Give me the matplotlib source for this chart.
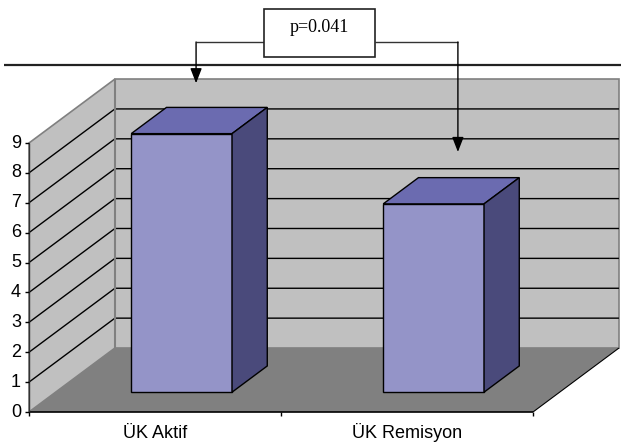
import matplotlib
matplotlib.use("Agg")
import matplotlib.pyplot as plt
from matplotlib.patches import Polygon, Rectangle

# Data
categories = ["ÜK Aktif", "ÜK Remisyon"]
values = [8.65, 6.3]
y_ticks = list(range(10))
p_label = "p=0.041"

# 3D look: depth vector of the floor in (category, value) units
DEPTH_X, DEPTH_Y = 0.341, 2.14
BAR_FRONT, BAR_BACK = 0.31, 0.72     # fraction of depth occupied by the bars
BAR_WIDTH = 0.40
Y_MAX = 9

WALL = "#C0C0C0"
FLOOR = "#808080"
EDGE = "#808080"
BAR_FRONT_C = "#9494C8"
BAR_TOP_C = "#6B6BB0"
BAR_SIDE_C = "#4A4A7B"

sans = ["Liberation Sans", "DejaVu Sans"]
serif = ["Liberation Serif", "DejaVu Serif"]

fig = plt.figure(figsize=(6.21, 4.44), dpi=100)
ax = fig.add_axes([29 / 621, 32 / 444, 504 / 621, 269 / 444])
n = len(categories)
ax.set_xlim(0, n)
ax.set_ylim(0, Y_MAX)
ax.axis("off")


def poly(pts, fc, ec="none", lw=0.0, z=1):
    ax.add_patch(Polygon(pts, closed=True, facecolor=fc, edgecolor=ec,
                         linewidth=lw, zorder=z, clip_on=False,
                         joinstyle="miter"))


def line(xs, ys, color="black", lw=1.0, z=2):
    ax.plot(xs, ys, color=color, lw=lw, zorder=z, clip_on=False,
            solid_capstyle="butt")


# Walls and floor
poly([(DEPTH_X, DEPTH_Y), (DEPTH_X, Y_MAX + DEPTH_Y),
      (n + DEPTH_X, Y_MAX + DEPTH_Y), (n + DEPTH_X, DEPTH_Y)], WALL, EDGE, 1.2, 1)
poly([(0, 0), (0, Y_MAX), (DEPTH_X, Y_MAX + DEPTH_Y), (DEPTH_X, DEPTH_Y)],
     WALL, EDGE, 1.2, 1)
poly([(0, 0), (n, 0), (n + DEPTH_X, DEPTH_Y), (DEPTH_X, DEPTH_Y)], FLOOR, "none", 0, 1)
line([n, n + DEPTH_X], [0, DEPTH_Y], "black", 0.8, 2)

# Gridlines across side and back walls
for v in y_ticks[1:-1]:
    line([0, DEPTH_X, n + DEPTH_X], [v, v + DEPTH_Y, v + DEPTH_Y], "black", 1.0, 2)
line([DEPTH_X, DEPTH_X], [DEPTH_Y, Y_MAX + DEPTH_Y], EDGE, 1.5, 2)

# Front axis lines and ticks
line([0, n], [0, 0], "black", 1.2, 3)
line([0, 0], [0, Y_MAX], "#333333", 1.0, 3)
tick_x = 4 / 252
tick_y = 4 / 29.89
for v in y_ticks:
    line([-tick_x, 0], [v, v], "black", 1.0, 3)
    ax.text(-2 * tick_x, v, str(v), ha="right", va="center",
            fontsize=13, family=sans, color="black")
for i in range(n + 1):
    line([i, i], [0, -tick_y], "black", 1.0, 3)
for i, c in enumerate(categories):
    ax.text(i + 0.5, -0.87, c, ha="center", va="baseline",
            fontsize=13, family=sans, color="black")

# Bars as boxes
for i, v in enumerate(values):
    x0 = i + 0.5 - BAR_WIDTH / 2
    x1 = i + 0.5 + BAR_WIDTH / 2
    fx, fy = BAR_FRONT * DEPTH_X, BAR_FRONT * DEPTH_Y
    bx, by = BAR_BACK * DEPTH_X, BAR_BACK * DEPTH_Y
    z = 5 + i
    poly([(x0 + fx, fy), (x1 + fx, fy), (x1 + fx, v + fy), (x0 + fx, v + fy)],
         BAR_FRONT_C, "black", 1.0, z)
    poly([(x0 + fx, v + fy), (x1 + fx, v + fy), (x1 + bx, v + by), (x0 + bx, v + by)],
         BAR_TOP_C, "black", 1.0, z)
    poly([(x1 + fx, fy), (x1 + bx, by), (x1 + bx, v + by), (x1 + fx, v + fy)],
         BAR_SIDE_C, "black", 1.0, z)

# Significance annotation above the plot
line([-0.099, 2.35], [11.61, 11.61], "#222222", 1.6, 10)
box_x0, box_x1, box_y0, box_y1 = 0.933, 1.373, 11.88, 13.48
ax.add_patch(Rectangle((box_x0, box_y0), box_x1 - box_x0, box_y1 - box_y0,
                       facecolor="white", edgecolor="#222222", lw=1.2,
                       zorder=11, clip_on=False))
ax.text((box_x0 + box_x1) / 2, 12.85, p_label, ha="center", va="center",
        fontsize=13, family=serif, color="black", zorder=12)

conn_y = 12.38
arrow_kw = dict(arrowstyle="-|>,head_length=0.9,head_width=0.35",
                mutation_scale=10, lw=1.0, color="black",
                shrinkA=0, shrinkB=0)
left_x, left_tip = 0.663, 11.0
right_x, right_tip = 1.702, 8.70
line([box_x0, left_x], [conn_y, conn_y], "#333333", 1.0, 10)
line([box_x1, right_x], [conn_y, conn_y], "#333333", 1.0, 10)
ax.annotate("", xy=(left_x, left_tip), xytext=(left_x, conn_y),
            arrowprops=arrow_kw, annotation_clip=False, zorder=10)
ax.annotate("", xy=(right_x, right_tip), xytext=(right_x, conn_y),
            arrowprops=arrow_kw, annotation_clip=False, zorder=10)

fig.savefig("out.png", dpi=100)
